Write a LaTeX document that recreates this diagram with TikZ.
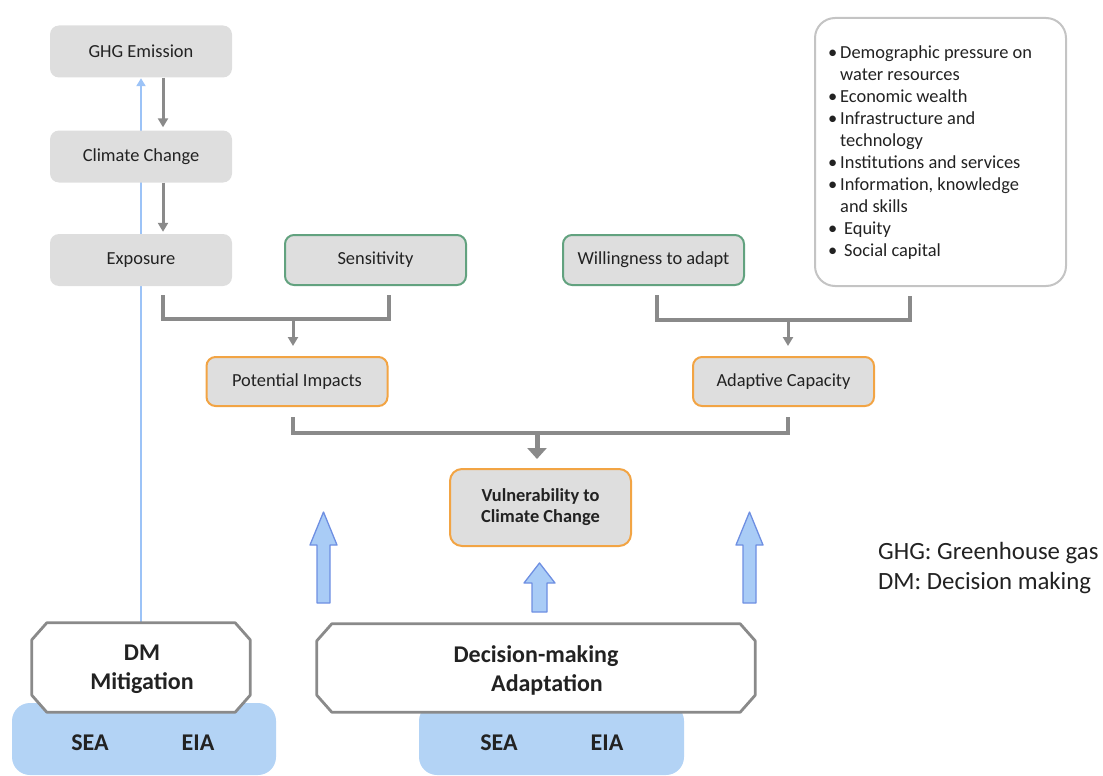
\documentclass[tikz,border=0pt]{standalone}
\usepackage{fontspec}
\setmainfont{Carlito}
\usetikzlibrary{arrows.meta,calc,backgrounds}

\definecolor{boxgray}{HTML}{DEDEDE}
\definecolor{linegray}{HTML}{8A8A8A}
\definecolor{greenb}{HTML}{62A27F}
\definecolor{orangeb}{HTML}{F2A444}
\definecolor{listgray}{HTML}{C4C4C4}
\definecolor{seablue}{HTML}{B3D3F5}
\definecolor{arrowfill}{HTML}{A9CCF6}
\definecolor{arrowdraw}{HTML}{6E8FE2}
\definecolor{thinblue}{HTML}{9CC3F7}
\definecolor{textcol}{HTML}{222222}

\newcommand\lbul{\makebox[12pt][l]{•}}
\newcommand\lind{\hspace*{12pt}}
% upward block arrow: centre x, tip y, head base y, bottom y, half shaft, half head
\newcommand\blockup[6]{%
  \draw[blockarrow] (#1-#5,#4) -- (#1-#5,#3) -- (#1-#6,#3) -- (#1,#2)
    -- (#1+#6,#3) -- (#1+#5,#3) -- (#1+#5,#4) -- cycle;}

\begin{document}
\begin{tikzpicture}[x=1pt,y=-1pt,
  box/.style={rectangle, rounded corners=9pt, fill=boxgray, minimum width=182pt,
    minimum height=52pt, inner sep=2pt, text=textcol,
    font=\fontsize{18.4}{22}\selectfont},
  greenbox/.style={box, draw=greenb, line width=2pt, minimum width=181pt, minimum height=50pt},
  orangebox/.style={box, draw=orangeb, line width=2pt, minimum width=181pt, minimum height=49pt},
  link/.style={draw=linegray, line width=3.5pt},
  garrow/.style={draw=linegray, line width=3pt, -{Triangle[width=10pt,length=9pt]}},
  bigarrow/.style={draw=linegray, line width=5pt, -{Triangle[width=19pt,length=11pt]}},
  blueline/.style={draw=thinblue, line width=2.5pt, -{Triangle[width=9pt,length=8pt]}},
  blockarrow/.style={draw=arrowdraw, fill=arrowfill, line width=1.3pt, line join=round},
  octo/.style={rectangle, minimum width=218pt, minimum height=89pt, inner sep=0pt},
  octoline/.style={draw=linegray, fill=white, line width=2.8pt, line join=round},
  seabox/.style={rectangle, rounded corners=18pt, fill=seablue, inner sep=0pt},
  boldtext/.style={text=textcol, font=\fontsize{24}{29}\selectfont\bfseries, align=center, inner sep=0pt},
]
\useasboundingbox (0,0) rectangle (1103,776);

% exposure chain
\node[box] (ghg) at (141,51.5) {GHG Emission};
\node[box] (cc) at (141,156.5) {Climate Change};
\node[box] (exp) at (141,260) {Exposure};
\draw[garrow] ($(ghg.south)+(22,0)$) -- ($(cc.north)+(22,-3)$);
\draw[garrow] ($(cc.south)+(22,0)$) -- ($(exp.north)+(22,-2)$);

% sensitivity and adaptive factors
\node[greenbox] (sens) at (375.5,260) {Sensitivity};
\node[greenbox] (will) at (653.5,260) {Willingness to adapt};
\node[draw=listgray, line width=2pt, rounded corners=20pt, fill=white,
  minimum width=251pt, minimum height=268pt] (fac) at (940.5,152) {};
\node[anchor=north west, inner sep=0pt, align=left, text=textcol,
  font=\fontsize{18.4}{22}\selectfont] (factors) at (828,46) {%
  \lbul Demographic pressure on\\
  \lind water resources\\
  \lbul Economic wealth\\
  \lbul Infrastructure and\\
  \lind technology\\
  \lbul Institutions and services\\
  \lbul Information, knowledge\\
  \lind and skills\\
  \makebox[16pt][l]{•}Equity\\
  \makebox[16pt][l]{•}Social capital};

% intermediate results
\node[orangebox] (pot) at (297,381.5) {Potential Impacts};
\node[orangebox] (adc) at (783.5,381.5) {Adaptive Capacity};
\node[orangebox, minimum height=77pt, rounded corners=12pt, align=center,
  font=\fontsize{18.4}{21}\selectfont\bfseries] (vul) at (540.5,507.5) {Vulnerability to\\Climate Change};

% brackets joining the inputs
\draw[link] ($(exp.south)+(22,9)$) |- ($(sens.south)+(13.5,33)$) -- ($(sens.south)+(13.5,9)$);
\draw[garrow] ($(pot.north)+(-4,-37)$) -- ($(pot.north)+(-4,-10)$);
\draw[link] ($(will.south)+(3.5,9)$) |- ($(fac.south)+(-30.5,33)$) -- ($(fac.south)+(-30.5,9)$);
\draw[garrow] ($(adc.north)+(4.5,-36)$) -- ($(adc.north)+(4.5,-10)$);
\draw[link] ($(pot.south)+(-4,10)$) |- ($(adc.south)+(4.5,26)$) -- ($(adc.south)+(4.5,10)$);
\draw[bigarrow] ($(vul.north)+(-3.5,-35)$) -- ($(vul.north)+(-3.5,-9)$);

% assessment tools
\node[seabox, minimum width=264pt, minimum height=72pt] (toolsm) at (144,739) {};
\node[seabox, minimum width=265pt, minimum height=72pt] (toolsa) at (551.5,739) {};
\node[boldtext] (seam) at (90,743) {SEA};
\node[boldtext] (eiam) at (198,743) {EIA};
\node[boldtext] (seaa) at (499,743) {SEA};
\node[boldtext] (eiaa) at (607,743) {EIA};

% decision-making frames
\node[octo] (dmm) at (141,667.5) {};
\draw[octoline] ($(dmm.north west)+(15,0)$) -- ($(dmm.north east)+(-15,0)$)
  -- ($(dmm.north east)+(0,17)$) -- ($(dmm.south east)+(0,-17)$)
  -- ($(dmm.south east)+(-15,0)$) -- ($(dmm.south west)+(15,0)$)
  -- ($(dmm.south west)+(0,-17)$) -- ($(dmm.north west)+(0,17)$) -- cycle;
\node[boldtext] (dmmtext) at ($(dmm.center)+(1,2)$) {DM\\Mitigation};

\node[octo, minimum width=438pt, minimum height=88pt] (dma) at (536,668) {};
\draw[octoline] ($(dma.north west)+(15,0)$) -- ($(dma.north east)+(-15,0)$)
  -- ($(dma.north east)+(0,17)$) -- ($(dma.south east)+(0,-17)$)
  -- ($(dma.south east)+(-15,0)$) -- ($(dma.south west)+(15,0)$)
  -- ($(dma.south west)+(0,-17)$) -- ($(dma.north west)+(0,17)$) -- cycle;
\node[boldtext] (dmatext) at ($(dma.center)+(0,2)$) {Decision-making\\\hspace*{22pt}Adaptation};

% mitigation feeds back on emissions
\begin{pgfonlayer}{background}
\draw[blueline] (dmm.north) -- ($(ghg.south)+(0,0.5)$);
\end{pgfonlayer}

% adaptation acts on impacts, vulnerability and capacity
\blockup{323.5}{512}{545}{603}{6.5}{13.5}
\blockup{539.5}{563}{583}{612}{7.5}{15.5}
\blockup{749.5}{512}{545}{603}{6.5}{13.5}

% abbreviations
\node[anchor=west, align=left, inner sep=0pt, text=textcol,
  font=\fontsize{24.8}{30}\selectfont] (legend) at (878,568) {GHG: Greenhouse gas\\DM: Decision making};
\end{tikzpicture}
\end{document}
